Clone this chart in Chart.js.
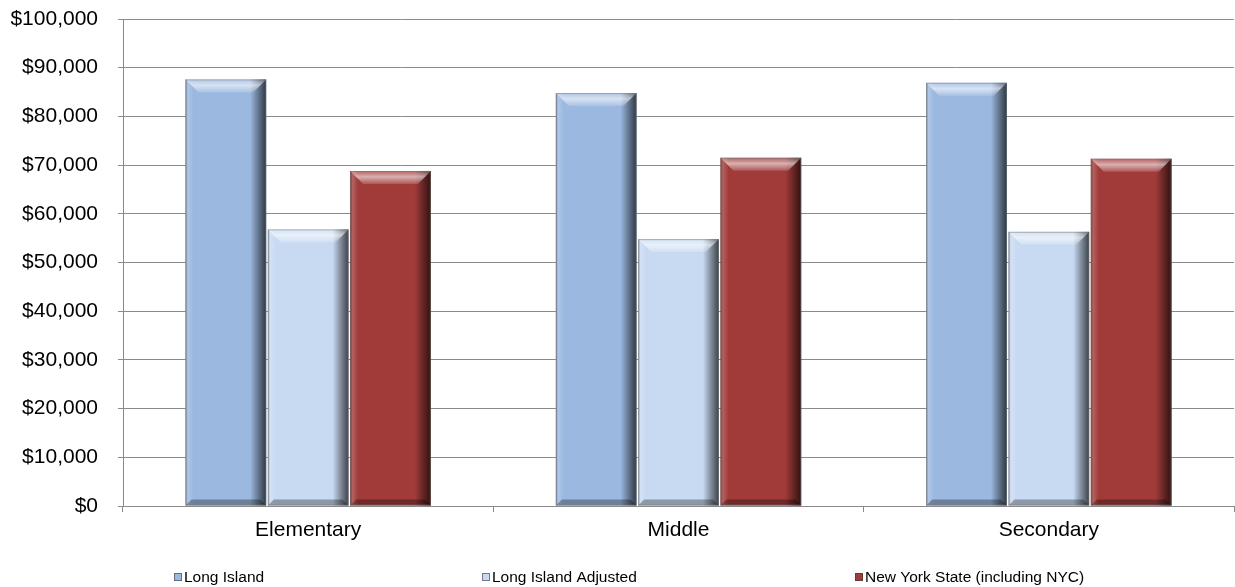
<!DOCTYPE html>
<html lang="en">
<head>
  <meta charset="UTF-8">
  <title>Teacher Salaries</title>
  <script src="https://cdn.jsdelivr.net/npm/chart.js"></script>
  <style>
    html, body {
      margin: 0;
      padding: 0;
      background: #fff;
    }
    .wrap {
      position: relative;
      width: 1235px;
      height: 587px;
    }
  </style>
</head>
<body>
  <div class="wrap">
    <canvas id="salaryChart"></canvas>
  </div>

  <script>
    const categories = ['Elementary', 'Middle', 'Secondary'];
    const seriesNames = ['Long Island', 'Long Island Adjusted', 'New York State (including NYC)'];
    const longIsland = [87600, 84800, 86900];
    const longIslandAdjusted = [56800, 54800, 56300];
    const newYorkState = [68800, 71500, 71300];
    const yTicks = [0, 10000, 20000, 30000, 40000, 50000, 60000, 70000, 80000, 90000, 100000];

    const FONT = "'Liberation Sans', Arial, sans-serif";

    // bevel look, drawn on top of each bar the library placed
    const bevelPlugin = {
      id: 'bevel',
      afterDatasetsDraw(chart) {
        const ctx = chart.ctx;
        chart.data.datasets.forEach((ds, i) => {
          chart.getDatasetMeta(i).data.forEach(bar => {
            const l = bar.x - bar.width / 2;
            const r = bar.x + bar.width / 2;
            const t = bar.y;
            const b = bar.base;
            const bv = 13;
            ctx.save();

            // right shade
            let g = ctx.createLinearGradient(r - 16, 0, r, 0);
            g.addColorStop(0, 'rgba(0,0,0,0)');
            g.addColorStop(1, 'rgba(0,0,0,0.7)');
            ctx.fillStyle = g;
            ctx.fillRect(r - 16, t, 16, b - t);

            // left edge
            g = ctx.createLinearGradient(l, 0, l + 8, 0);
            g.addColorStop(0, 'rgba(0,0,0,0.3)');
            g.addColorStop(0.3, 'rgba(255,255,255,0.2)');
            g.addColorStop(1, 'rgba(255,255,255,0)');
            ctx.fillStyle = g;
            ctx.fillRect(l, t, 8, b - t);

            // top bevel
            g = ctx.createLinearGradient(0, t, 0, t + bv);
            g.addColorStop(0, 'rgba(255,255,255,0.2)');
            g.addColorStop(0.45, 'rgba(255,255,255,0.6)');
            g.addColorStop(1, 'rgba(255,255,255,0.15)');
            ctx.fillStyle = g;
            ctx.beginPath();
            ctx.moveTo(l, t);
            ctx.lineTo(r, t);
            ctx.lineTo(r - bv, t + bv);
            ctx.lineTo(l + bv, t + bv);
            ctx.closePath();
            ctx.fill();

            // bottom bevel
            ctx.fillStyle = 'rgba(0,0,0,0.3)';
            ctx.beginPath();
            ctx.moveTo(l, b);
            ctx.lineTo(r, b);
            ctx.lineTo(r - 6, b - 6);
            ctx.lineTo(l + 6, b - 6);
            ctx.closePath();
            ctx.fill();

            ctx.strokeStyle = 'rgba(120,120,120,0.5)';
            ctx.lineWidth = 1;
            ctx.strokeRect(l + 0.5, t + 0.5, bar.width - 1, b - t - 1);
            ctx.restore();
          });
        });
      }
    };

    // legend along the bottom
    const legendX = [174, 482, 855];
    const bottomLegend = {
      id: 'bottomLegend',
      afterDraw(chart) {
        const ctx = chart.ctx;
        const y = 577;
        ctx.save();
        ctx.font = '15.5px ' + FONT;
        ctx.textBaseline = 'middle';
        ctx.textAlign = 'left';
        chart.data.datasets.forEach((ds, i) => {
          const x = legendX[i];
          ctx.fillStyle = ds.backgroundColor;
          ctx.fillRect(x, y - 4, 8, 8);
          ctx.strokeStyle = 'rgba(60,60,60,0.6)';
          ctx.strokeRect(x + 0.5, y - 3.5, 7, 7);
          ctx.fillStyle = '#000';
          ctx.fillText(ds.label, x + 10, y + 1);
        });
        ctx.restore();
      }
    };

    new Chart(document.getElementById('salaryChart'), {
      type: 'bar',
      data: {
        labels: categories,
        datasets: [
          { label: seriesNames[0], data: longIsland, backgroundColor: '#9bb8e0' },
          { label: seriesNames[1], data: longIslandAdjusted, backgroundColor: '#c8daf2' },
          { label: seriesNames[2], data: newYorkState, backgroundColor: '#a03b39' }
        ]
      },
      options: {
        responsive: true,
        maintainAspectRatio: false,
        animation: false,
        layout: { padding: { top: 19, right: 1, left: 0, bottom: 0 } },
        categoryPercentage: 0.667,
        barPercentage: 0.98,
        plugins: {
          legend: { display: false },
          tooltip: { enabled: false }
        },
        scales: {
          x: {
            afterFit(scale) {
              scale.height = 81;
              scale.paddingLeft = 0;
              scale.paddingRight = 0;
            },
            grid: {
              offset: true,
              drawOnChartArea: false,
              drawTicks: true,
              tickLength: 6,
              color: '#8a8a8a'
            },
            border: { color: '#8a8a8a' },
            ticks: {
              color: '#000',
              padding: 6,
              font: { family: FONT, size: 21 }
            }
          },
          y: {
            min: 0,
            max: 100000,
            afterFit(scale) {
              scale.width = 123;
              scale.paddingTop = 0;
              scale.paddingBottom = 0;
            },
            afterBuildTicks(scale) {
              scale.ticks = yTicks.map(v => ({ value: v }));
            },
            grid: {
              color: '#8a8a8a',
              tickLength: 5
            },
            border: { color: '#8a8a8a' },
            ticks: {
              color: '#000',
              padding: 20,
              font: { family: FONT, size: 21 },
              callback: v => '$' + v.toLocaleString('en-US')
            }
          }
        }
      },
      plugins: [bevelPlugin, bottomLegend]
    });
  </script>
</body>
</html>
